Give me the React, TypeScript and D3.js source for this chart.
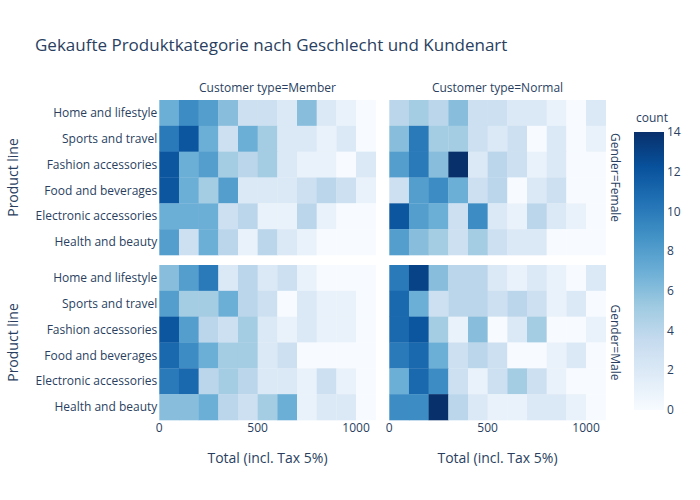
import React from "react";
import * as d3 from "d3";

const productLines = [
  "Home and lifestyle",
  "Sports and travel",
  "Fashion accessories",
  "Food and beverages",
  "Electronic accessories",
  "Health and beauty",
];

const customerTypes = ["Member", "Normal"];
const genders = ["Female", "Male"];

// Bins of 100 from 0 to 1100 on Total
const binEdges = [0, 100, 200, 300, 400, 500, 600, 700, 800, 900, 1000, 1100];

// counts per product line (rows) and bin (cols)
const memberFemale = [
  [7, 9, 8, 6, 3, 3, 2, 6, 2, 1, 0],
  [10, 12, 7, 3, 7, 5, 2, 2, 1, 2, 0],
  [12, 7, 8, 5, 4, 5, 2, 1, 1, 0, 2],
  [12, 7, 5, 8, 2, 2, 2, 3, 4, 3, 1],
  [7, 7, 7, 3, 4, 1, 1, 4, 1, 0, 0],
  [8, 3, 7, 4, 1, 4, 2, 1, 0, 0, 0],
];
const normalFemale = [
  [4, 5, 4, 6, 3, 3, 2, 2, 1, 0, 2],
  [6, 10, 5, 5, 3, 2, 3, 0, 2, 0, 1],
  [8, 10, 6, 14, 2, 4, 3, 1, 2, 0, 0],
  [3, 8, 9, 7, 3, 4, 0, 2, 3, 0, 0],
  [12, 8, 7, 3, 9, 2, 1, 4, 2, 1, 0],
  [8, 6, 5, 3, 5, 3, 2, 2, 0, 0, 0],
];
const memberMale = [
  [6, 8, 10, 2, 4, 2, 3, 1, 0, 0, 0],
  [8, 5, 5, 7, 4, 3, 0, 2, 1, 1, 0],
  [12, 8, 4, 3, 5, 2, 1, 2, 1, 1, 0],
  [11, 9, 7, 5, 5, 2, 3, 0, 0, 0, 0],
  [10, 11, 4, 5, 4, 2, 2, 1, 3, 1, 0],
  [6, 6, 7, 4, 3, 5, 7, 1, 2, 2, 0],
];
const normalMale = [
  [10, 13, 6, 4, 4, 2, 1, 2, 1, 0, 2],
  [11, 7, 3, 4, 4, 3, 4, 3, 1, 2, 0],
  [11, 12, 5, 1, 6, 0, 2, 5, 0, 0, 1],
  [10, 11, 7, 3, 4, 3, 0, 0, 1, 2, 0],
  [7, 11, 9, 3, 1, 3, 5, 3, 1, 0, 0],
  [9, 9, 14, 4, 2, 1, 1, 2, 2, 1, 0],
];

const xTicks = [0, 500, 1000];
const colorTicks = [0, 2, 4, 6, 8, 10, 12, 14];

const blues = [
  "rgb(247,251,255)",
  "rgb(222,235,247)",
  "rgb(198,219,239)",
  "rgb(158,202,225)",
  "rgb(107,174,214)",
  "rgb(66,146,198)",
  "rgb(33,113,181)",
  "rgb(8,81,156)",
  "rgb(8,48,107)",
];

const W = 700;
const H = 500;
const font = "'Open Sans', sans-serif";
const ink = "#2a3f5f";

const colX = [
  [159.3, 375.7],
  [389.3, 605.7],
];
const rowY = [
  [100, 255],
  [265, 420],
];

const zMax = 14;
const color = d3
  .scaleLinear<string>()
  .domain(blues.map((_, i) => (i / (blues.length - 1)) * zMax))
  .range(blues)
  .interpolate(d3.interpolateRgb);

const panels = [
  { c: 0, r: 0, data: memberFemale },
  { c: 1, r: 0, data: normalFemale },
  { c: 0, r: 1, data: memberMale },
  { c: 1, r: 1, data: normalMale },
];

const App: React.FC = () => {
  const cbX = 634;
  const cbW = 30;
  const cbTop = 132;
  const cbBottom = 410;
  const cbScale = d3.scaleLinear().domain([0, zMax]).range([cbBottom, cbTop]);

  return (
    <svg
      width={W}
      height={H}
      style={{ position: "absolute", left: 0, top: 0, background: "#fff" }}
      fontFamily={font}
    >
      <defs>
        <linearGradient id="cb-grad" x1="0" y1="1" x2="0" y2="0">
          {blues.map((b, i) => (
            <stop key={i} offset={`${(i / (blues.length - 1)) * 100}%`} stopColor={b} />
          ))}
        </linearGradient>
      </defs>

      <text x={35} y={51} fontSize={17} fill={ink}>
        Gekaufte Produktkategorie nach Geschlecht und Kundenart
      </text>

      {panels.map((p, pi) => {
        const x = d3.scaleLinear().domain([0, 1100]).range(colX[p.c]);
        const y = d3.scaleBand<string>().domain(productLines).range(rowY[p.r]).padding(0);
        return (
          <g key={pi}>
            {p.data.map((row, ri) =>
              row.map((v, bi) => (
                <rect
                  key={`${ri}-${bi}`}
                  x={x(binEdges[bi])}
                  y={y(productLines[ri])}
                  width={x(binEdges[bi + 1]) - x(binEdges[bi]) + 0.3}
                  height={y.bandwidth() + 0.3}
                  fill={color(v)}
                />
              ))
            )}
            {p.c === 0 &&
              productLines.map((pl) => (
                <text
                  key={pl}
                  x={colX[0][0] - 2}
                  y={(y(pl) ?? 0) + y.bandwidth() / 2}
                  dy="0.35em"
                  textAnchor="end"
                  fontSize={12}
                  fill={ink}
                >
                  {pl}
                </text>
              ))}
            {p.r === 1 &&
              xTicks.map((t) => (
                <text key={t} x={x(t)} y={432} textAnchor="middle" fontSize={12} fill={ink}>
                  {t}
                </text>
              ))}
          </g>
        );
      })}

      {customerTypes.map((ct, i) => (
        <text
          key={ct}
          x={(colX[i][0] + colX[i][1]) / 2}
          y={92}
          textAnchor="middle"
          fontSize={12}
          fill={ink}
        >
          {`Customer type=${ct}`}
        </text>
      ))}

      {genders.map((g, i) => {
        const cy = (rowY[i][0] + rowY[i][1]) / 2;
        return (
          <text
            key={g}
            transform={`translate(611,${cy}) rotate(90)`}
            textAnchor="middle"
            fontSize={12}
            fill={ink}
          >
            {`Gender=${g}`}
          </text>
        );
      })}

      {rowY.map((r, i) => (
        <text
          key={i}
          transform={`translate(18,${(r[0] + r[1]) / 2}) rotate(-90)`}
          textAnchor="middle"
          fontSize={14}
          fill={ink}
        >
          Product line
        </text>
      ))}

      {colX.map((c, i) => (
        <text
          key={i}
          x={(c[0] + c[1]) / 2}
          y={463}
          textAnchor="middle"
          fontSize={14}
          fill={ink}
        >
          Total (incl. Tax 5%)
        </text>
      ))}

      <text x={cbX + 2} y={122} fontSize={12} fill={ink}>
        count
      </text>
      <rect x={cbX} y={cbTop} width={cbW} height={cbBottom - cbTop} fill="url(#cb-grad)" />
      {colorTicks.map((t) => (
        <text
          key={t}
          x={cbX + cbW + 3}
          y={cbScale(t)}
          dy="0.35em"
          fontSize={12}
          fill={ink}
        >
          {t}
        </text>
      ))}
    </svg>
  );
};

export default App;
